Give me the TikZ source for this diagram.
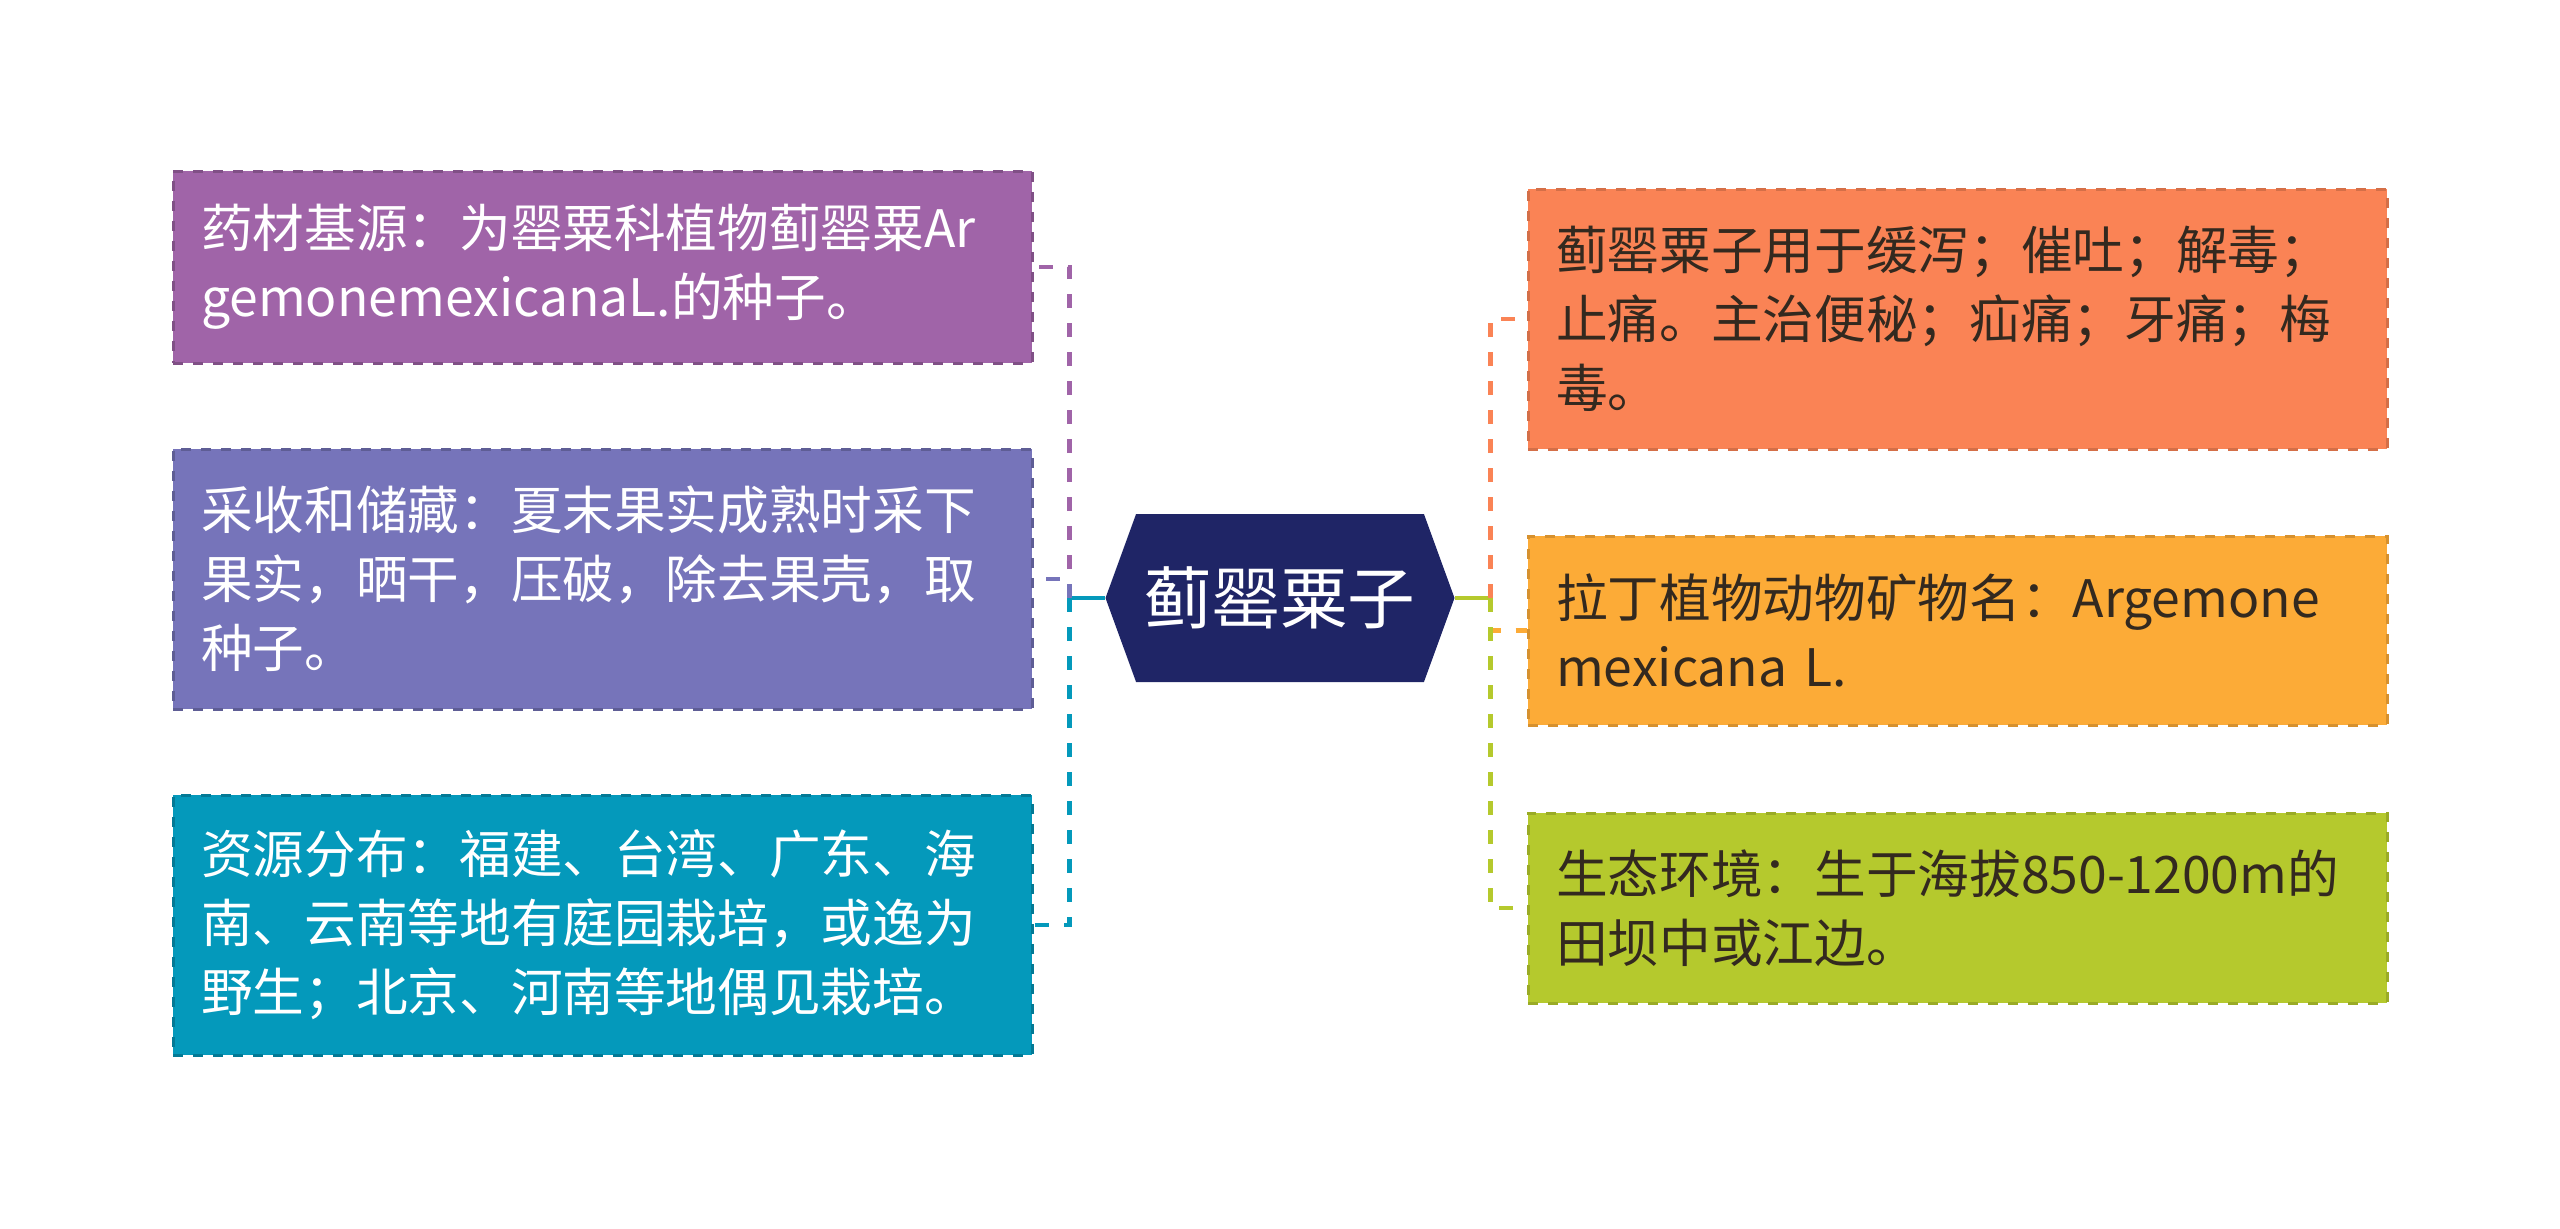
\documentclass[tikz,border=0pt]{standalone}
\usepackage{fontspec}
\setmainfont{Noto Sans CJK SC}
\usetikzlibrary{shapes.symbols}
\definecolor{rootblue}{HTML}{1F2566}
\definecolor{mpurple}{HTML}{A064A8}
\definecolor{hviolet}{HTML}{7674BA}
\definecolor{rteal}{HTML}{0499BB}
\definecolor{uorange}{HTML}{FA8355}
\definecolor{lamber}{HTML}{FCAB37}
\definecolor{egreen}{HTML}{B5C92D}
\definecolor{darktext}{HTML}{33291F}

\begin{document}
\begin{tikzpicture}[x=0.3pt, y=-0.3pt,
		box/.style={rectangle, dashed, line width=0.9pt, inner xsep=8.4pt, inner ysep=0pt,
			text width=240.9pt, align=left, font=\fontsize{15.5pt}{20.7pt}\selectfont},
		leftbox/.style={box, fill=#1, draw=#1!80!black, text=white},
		rightbox/.style={box, fill=#1, draw=#1!85!black, text=darktext},
		conn/.style={dash pattern=on 4.2pt off 4.5pt, line width=1.4pt},
		stub/.style={line width=1.4pt}]
			\useasboundingbox (0,0) rectangle (2560,1228);
			
			\node[signal, signal to=west and east, signal pointer angle=140, fill=rootblue, text=white,
				minimum width=104.7pt, minimum height=50.4pt, inner sep=0pt,
				font=\fontsize{20.3pt}{24pt}\selectfont] (root) at (1280,598) {蓟罂粟子};
			
			% left side
			\node[leftbox=mpurple, minimum height=57.6pt] (medicine) at (602.5,267)
				{药材基源：为罂粟科植物蓟罂粟Ar\\gemonemexicanaL.的种子。};
			\node[leftbox=hviolet, minimum height=78pt] (harvest) at (602.5,579)
				{采收和储藏：夏末果实成熟时采下\\果实，晒干，压破，除去果壳，取\\种子。};
			\node[leftbox=rteal, minimum height=78pt] (resource) at (602.5,925)
				{资源分布：福建、台湾、广东、海\\南、云南等地有庭园栽培，或逸为\\野生；北京、河南等地偶见栽培。};
			
			% right side
			\node[rightbox=uorange, minimum height=78pt] (usage) at (1957.5,319)
				{蓟罂粟子用于缓泻；催吐；解毒；\\止痛。主治便秘；疝痛；牙痛；梅\\毒。};
			\node[rightbox=lamber, minimum height=56.7pt] (latin) at (1957.5,630.5)
				{拉丁植物动物矿物名：Argemone\\mexicana L.};
			\node[rightbox=egreen, minimum height=57pt] (ecology) at (1957.5,908)
				{生态环境：生于海拔850-1200m的\\田坝中或江边。};
			
			\coordinate (ljoint) at ([xshift=-10.5pt]root.west);
			\coordinate (rjoint) at ([xshift=10.5pt]root.east);
			
			\draw[stub, rteal] (root.west) -- (ljoint);
			\draw[conn, mpurple] (ljoint) |- (medicine.east);
			\draw[conn, hviolet] (ljoint) |- (harvest.east);
			\draw[conn, rteal] (ljoint) |- (resource.east);
			
			\draw[stub, egreen] (root.east) -- (rjoint);
			\draw[conn, uorange] (rjoint) |- (usage.west);
			\draw[conn, lamber] (rjoint) |- (latin.west);
			\draw[conn, egreen] (rjoint) |- (ecology.west);
		\end{tikzpicture}
\end{document}
